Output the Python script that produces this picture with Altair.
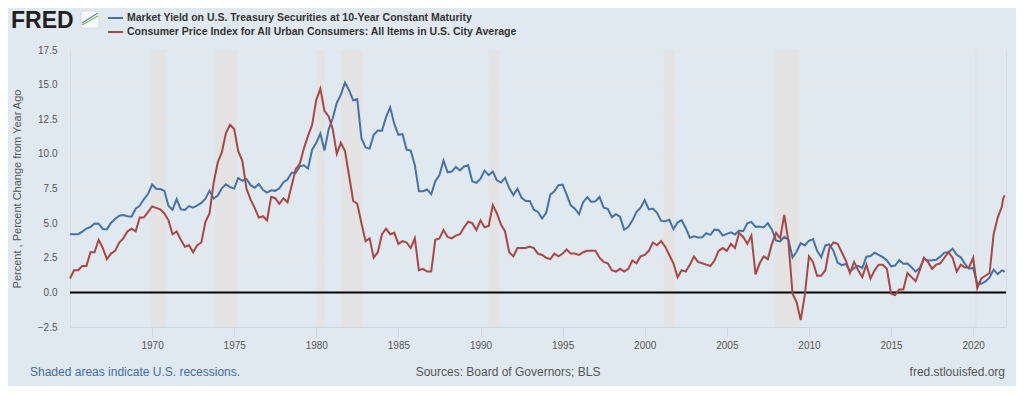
import altair as alt
import pandas as pd

# ---------------- data (quarterly: Jan/Apr/Jul/Oct, 1965-2021) ----------------
gs10 = [
    4.19, 4.20, 4.20, 4.38,   # 1965
    4.61, 4.72, 4.97, 4.96,   # 1966
    4.58, 4.55, 5.01, 5.30,   # 1967
    5.53, 5.59, 5.50, 5.46,   # 1968
    6.04, 6.26, 6.72, 7.10,   # 1969
    7.79, 7.48, 7.46, 7.33,   # 1970
    6.24, 5.97, 6.73, 6.00,   # 1971
    5.95, 6.23, 6.11, 6.28,   # 1972
    6.46, 6.76, 7.33, 6.77,   # 1973
    6.99, 7.51, 7.81, 7.60,   # 1974
    7.50, 8.26, 8.06, 8.19,   # 1975
    7.74, 7.56, 7.83, 7.41,   # 1976
    7.21, 7.37, 7.33, 7.52,   # 1977
    7.96, 8.15, 8.64, 8.64,   # 1978
    9.10, 9.18, 8.95, 10.30,  # 1979
    10.80, 11.47, 10.25, 11.75,  # 1980
    12.57, 13.68, 14.28, 15.15,  # 1981
    14.59, 13.87, 13.95, 11.13,  # 1982
    10.46, 10.38, 11.38, 11.69,  # 1983
    11.67, 12.65, 13.36, 12.16,  # 1984
    11.38, 11.43, 10.31, 10.24,  # 1985
    9.19, 7.30, 7.30, 7.43,   # 1986
    7.08, 8.02, 8.45, 9.52,   # 1987
    8.67, 8.72, 9.06, 8.80,   # 1988
    9.09, 9.18, 8.02, 7.91,   # 1989
    8.21, 8.79, 8.47, 8.72,   # 1990
    8.09, 7.93, 8.27, 7.53,   # 1991
    7.03, 7.48, 6.84, 6.59,   # 1992
    6.60, 5.97, 5.81, 5.33,   # 1993
    5.75, 7.04, 7.30, 7.74,   # 1994
    7.78, 7.06, 6.28, 6.04,   # 1995
    5.65, 6.51, 6.87, 6.53,   # 1996
    6.58, 6.89, 6.12, 6.03,   # 1997
    5.43, 5.64, 5.46, 4.53,   # 1998
    4.72, 5.18, 5.79, 6.11,   # 1999
    6.66, 5.99, 6.05, 5.74,   # 2000
    5.16, 5.14, 5.24, 4.57,   # 2001
    5.04, 5.21, 4.65, 3.94,   # 2002
    4.05, 3.96, 3.98, 4.27,   # 2003
    4.15, 4.53, 4.50, 4.10,   # 2004
    4.22, 4.34, 4.18, 4.46,   # 2005
    4.42, 4.99, 5.09, 4.73,   # 2006
    4.76, 4.69, 5.00, 4.53,   # 2007
    3.74, 3.68, 4.01, 3.81,   # 2008
    2.52, 2.93, 3.56, 3.39,   # 2009
    3.73, 3.85, 3.01, 2.54,   # 2010
    3.39, 3.46, 3.00, 2.15,   # 2011
    1.97, 2.05, 1.53, 1.75,   # 2012
    1.91, 1.76, 2.58, 2.62,   # 2013
    2.86, 2.71, 2.54, 2.30,   # 2014
    1.88, 1.94, 2.32, 2.07,   # 2015
    2.09, 1.81, 1.50, 1.76,   # 2016
    2.43, 2.30, 2.32, 2.36,   # 2017
    2.58, 2.87, 2.89, 3.15,   # 2018
    2.71, 2.53, 2.06, 1.71,   # 2019
    1.76, 0.66, 0.62, 0.79,   # 2020
    1.08, 1.64, 1.32, 1.58,   # 2021
]

cpi = [
    1.0, 1.6, 1.6, 1.9,     # 1965
    1.9, 2.9, 2.9, 3.8,     # 1966
    3.2, 2.4, 2.8, 3.0,     # 1967
    3.6, 3.9, 4.4, 4.6,     # 1968
    4.4, 5.4, 5.4, 5.8,     # 1969
    6.2, 6.1, 6.0, 5.7,     # 1970
    5.2, 4.2, 4.4, 3.8,     # 1971
    3.3, 3.4, 2.9, 3.4,     # 1972
    3.6, 5.1, 5.7, 7.9,     # 1973
    9.4, 10.1, 11.5, 12.1,  # 1974
    11.8, 10.2, 9.5, 7.5,   # 1975
    6.7, 6.1, 5.4, 5.5,     # 1976
    5.2, 6.9, 6.8, 6.4,     # 1977
    6.8, 6.5, 7.7, 8.9,     # 1978
    9.3, 10.4, 11.3, 12.1,  # 1979
    13.9, 14.7, 13.1, 12.7, # 1980
    11.8, 10.0, 10.8, 10.2, # 1981
    8.4, 6.6, 6.4, 5.0,     # 1982
    3.7, 3.9, 2.5, 2.9,     # 1983
    4.2, 4.6, 4.2, 4.3,     # 1984
    3.5, 3.7, 3.6, 3.2,     # 1985
    3.9, 1.6, 1.7, 1.5,     # 1986
    1.5, 3.8, 3.9, 4.5,     # 1987
    4.0, 3.9, 4.1, 4.2,     # 1988
    4.7, 5.1, 5.0, 4.5,     # 1989
    5.2, 4.7, 4.8, 6.3,     # 1990
    5.7, 4.9, 4.4, 2.9,     # 1991
    2.6, 3.2, 3.2, 3.2,     # 1992
    3.3, 3.2, 2.8, 2.7,     # 1993
    2.5, 2.4, 2.8, 2.6,     # 1994
    2.8, 3.1, 2.8, 2.8,     # 1995
    2.7, 2.9, 3.0, 3.0,     # 1996
    3.0, 2.5, 2.2, 2.1,     # 1997
    1.6, 1.5, 1.7, 1.5,     # 1998
    1.7, 2.3, 2.1, 2.6,     # 1999
    2.7, 3.0, 3.6, 3.4,     # 2000
    3.7, 3.3, 2.7, 2.1,     # 2001
    1.1, 1.6, 1.5, 2.0,     # 2002
    2.6, 2.2, 2.1, 2.0,     # 2003
    1.9, 2.3, 3.0, 3.2,     # 2004
    3.0, 3.5, 3.2, 4.3,     # 2005
    4.0, 3.5, 4.1, 1.3,     # 2006
    2.1, 2.6, 2.4, 3.5,     # 2007
    4.3, 3.9, 5.6, 3.7,     # 2008
    -0.1, -0.7, -2.0, -0.2, # 2009
    2.6, 2.2, 1.2, 1.2,     # 2010
    1.6, 3.2, 3.6, 3.5,     # 2011
    2.9, 2.3, 1.4, 2.2,     # 2012
    1.6, 1.1, 2.0, 1.0,     # 2013
    1.6, 2.0, 2.0, 1.7,     # 2014
    -0.1, -0.2, 0.2, 0.2,   # 2015
    1.4, 1.1, 0.8, 1.6,     # 2016
    2.5, 2.2, 1.7, 2.0,     # 2017
    2.1, 2.5, 2.9, 2.5,     # 2018
    1.5, 2.0, 1.8, 1.8,     # 2019
    2.5, 0.3, 1.0, 1.2,     # 2020
    1.4, 4.2, 5.4, 6.2,     # 2021
]

tail_dates = ["2021-11-01", "2021-12-01"]
tail_gs10 = [1.56, 1.47]
tail_cpi = [6.8, 7.0]

rec_start = ["1969-12-01", "1973-11-01", "1980-01-01", "1981-07-01",
             "1990-07-01", "2001-03-01", "2007-12-01", "2020-02-01"]
rec_end = ["1970-11-01", "1975-03-01", "1980-07-01", "1982-11-01",
           "1991-03-01", "2001-11-01", "2009-06-01", "2020-04-01"]

name_gs = "Market Yield on U.S. Treasury Securities at 10-Year Constant Maturity"
name_cpi = "Consumer Price Index for All Urban Consumers: All Items in U.S. City Average"

y_ticks = [-2.5, 0.0, 2.5, 5.0, 7.5, 10.0, 12.5, 15.0, 17.5]
x_tick_years = [1970, 1975, 1980, 1985, 1990, 1995, 2000, 2005, 2010, 2015, 2020]

BLUE = "#4572A7"
RED = "#AA4643"
BG = "#E1E9F0"

# ---------------- frames ----------------
dates = list(pd.date_range("1965-01-01", periods=len(gs10), freq="QS")) + list(pd.to_datetime(tail_dates))
df_gs = pd.DataFrame({"date": dates, "value": gs10 + tail_gs10})
df_cpi = pd.DataFrame({"date": dates, "value": cpi + tail_cpi})
df_rec = pd.DataFrame({"start": pd.to_datetime(rec_start), "end": pd.to_datetime(rec_end)})

W, H = 936, 277
x_dom = ["1965-01-01", "2022-01-01"]
xscale = alt.Scale(domain=x_dom)
yscale = alt.Scale(domain=[-2.5, 17.5], nice=False, zero=False)

x_axis = alt.Axis(
    values=[alt.DateTime(year=y, month=1, date=1) for y in x_tick_years],
    format="%Y", title=None, grid=False,
    labelFontSize=10, labelColor="#555555", labelPadding=3,
    tickColor="#CCD6EB", tickSize=10, domainColor="#CCD6EB", labelFlush=False,
)
y_axis = alt.Axis(
    values=y_ticks, format=".1f", title="Percent , Percent Change from Year Ago",
    grid=True, gridColor="#E6E6E6", domain=False, ticks=False,
    labelFontSize=10, labelColor="#555555", labelPadding=13,
    titleFontSize=11, titleFontWeight="normal", titleColor="#555555",
    titleX=-53, titleY=H / 2, titleAngle=-90, titleAlign="center", titleBaseline="middle",
)

rec = alt.Chart(df_rec).mark_rect(fill="#E3E3E3", opacity=1, fillOpacity=1, strokeWidth=0).encode(
    x=alt.X("start:T", scale=xscale, axis=x_axis), x2="end:T"
)

zero = alt.Chart(pd.DataFrame({"v": [0.0]})).mark_rule(color="black", strokeWidth=2).encode(
    y=alt.Y("v:Q", scale=yscale, axis=y_axis)
)

line_gs = alt.Chart(df_gs).mark_line(color=BLUE, strokeWidth=2).encode(
    x=alt.X("date:T", scale=xscale, axis=x_axis),
    y=alt.Y("value:Q", scale=yscale, axis=y_axis),
)
line_cpi = alt.Chart(df_cpi).mark_line(color=RED, strokeWidth=2).encode(
    x=alt.X("date:T", scale=xscale, axis=x_axis),
    y=alt.Y("value:Q", scale=yscale, axis=y_axis),
)

one = pd.DataFrame({"a": [0]})

def txt(s, x, y, size, color, weight="normal", align="left", baseline="middle"):
    return alt.Chart(one).mark_text(
        text=s, align=align, baseline=baseline, fontSize=size, color=color,
        fontWeight=weight, font="Liberation Sans",
    ).encode(x=alt.value(x), y=alt.value(y))

# page coords -> plot coords: (px - 70, py - 50)
logo = txt("FRED", 11 - 70, 28 - 50, 23, "#231F20", weight="bold", baseline="alphabetic")
icon_box = alt.Chart(one).mark_rect(fill="#F7F8FA", stroke="#C9D2DA", strokeWidth=0.6).encode(
    x=alt.value(81 - 70), x2=alt.value(99 - 70), y=alt.value(11 - 50), y2=alt.value(28 - 50)
)
icon_g = alt.Chart(one).mark_rule(color="#86B45A", strokeWidth=1.3).encode(
    x=alt.value(82 - 70), x2=alt.value(98 - 70), y=alt.value(25 - 50), y2=alt.value(16 - 50)
)
icon_b = alt.Chart(one).mark_rule(color="#5B87C5", strokeWidth=1.3).encode(
    x=alt.value(82 - 70), x2=alt.value(98 - 70), y=alt.value(23 - 50), y2=alt.value(13 - 50)
)
sw_b = alt.Chart(one).mark_rule(color=BLUE, strokeWidth=2).encode(
    x=alt.value(108 - 70), x2=alt.value(123 - 70), y=alt.value(18 - 50), y2=alt.value(18 - 50)
)
sw_r = alt.Chart(one).mark_rule(color=RED, strokeWidth=2).encode(
    x=alt.value(108 - 70), x2=alt.value(123 - 70), y=alt.value(32 - 50), y2=alt.value(32 - 50)
)
leg1 = txt(name_gs, 127 - 70, 18 - 50, 10.5, "#333333", weight="bold")
leg2 = txt(name_cpi, 127 - 70, 32 - 50, 10.5, "#333333", weight="bold")

foot1 = txt("Shaded areas indicate U.S. recessions.", 30 - 70, 372 - 50, 12, "#3D6DB0")
foot2 = txt("Sources: Board of Governors; BLS", 508 - 70, 372 - 50, 12, "#555555", align="center")
foot3 = txt("fred.stlouisfed.org", 1005 - 70, 372 - 50, 12, "#555555", align="right")

chart = alt.layer(
    rec, zero, line_gs, line_cpi,
    logo, icon_box, icon_g, icon_b, sw_b, sw_r, leg1, leg2, foot1, foot2, foot3,
).properties(
    width=W, height=H,
    autosize=alt.AutoSizeParams(type="none"),
    padding={"left": 62, "top": 42, "right": 10, "bottom": 59},
    background=BG,
).configure_view(stroke=None, fill="white").configure(font="Liberation Sans")

chart.save("out.html", embed_options={"renderer": "svg", "actions": False})
